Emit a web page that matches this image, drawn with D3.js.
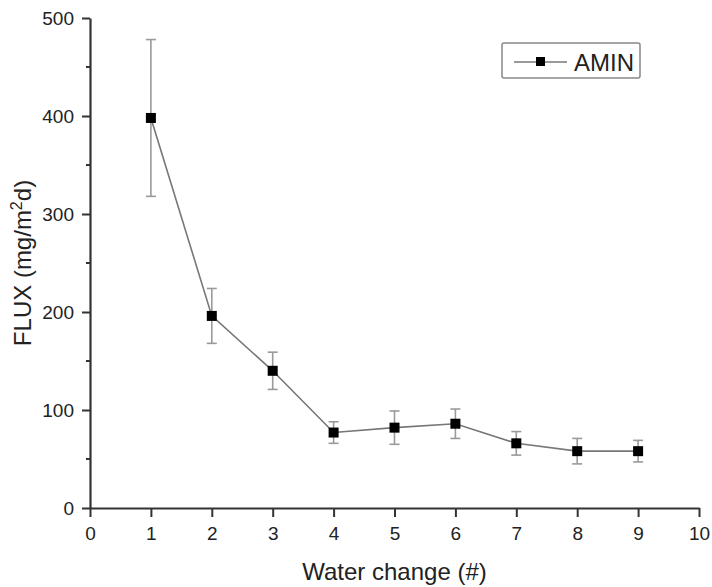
<!DOCTYPE html>
<html>
<head>
<meta charset="utf-8">
<script src="https://cdn.jsdelivr.net/npm/d3@7"></script>
<style>
  html, body { margin: 0; padding: 0; background: #fff; }
  svg { display: block; font-family: "Liberation Sans", Arial, sans-serif; }
</style>
</head>
<body>
<svg id="chart" width="712" height="587"></svg>
<script>
// Flux measured after each water change
const waterChange = [1, 2, 3, 4, 5, 6, 7, 8, 9];
const flux        = [398, 196, 140, 77, 82, 86, 66, 58, 58];
const fluxErr     = [80, 28, 19, 11, 17, 15, 12, 13, 11];
const xTicks = [0, 1, 2, 3, 4, 5, 6, 7, 8, 9, 10];
const yTicks = [0, 100, 200, 300, 400, 500];
const yMinorTicks = [50, 150, 250, 350, 450];
const seriesName = "AMIN";

const svg = d3.select("#chart");
const margin = { left: 90, right: 13, top: 18, bottom: 79 };
const W = 712, H = 587;

const x = d3.scaleLinear().domain([0, 10]).range([margin.left, W - margin.right]);
const y = d3.scaleLinear().domain([0, 500]).range([H - margin.bottom, margin.top]);

const axisColor = "#333";

// x axis
const gx = svg.append("g")
  .attr("transform", `translate(0,${y(0)})`)
  .call(d3.axisBottom(x).tickValues(xTicks).tickFormat(d3.format("d")).tickSize(9).tickPadding(10).tickSizeOuter(0));
gx.select(".domain").attr("stroke", axisColor).attr("stroke-width", 2.2);
gx.selectAll(".tick line").attr("stroke", axisColor).attr("stroke-width", 2);
gx.selectAll(".tick text").attr("font-size", 19).attr("fill", "#222").attr("font-family", "Liberation Sans, Arial, sans-serif");

// y axis
const gy = svg.append("g")
  .attr("transform", `translate(${x(0)},0)`)
  .call(d3.axisLeft(y).tickValues(yTicks).tickFormat(d3.format("d")).tickSize(8).tickPadding(8).tickSizeOuter(0));
gy.select(".domain").attr("stroke", axisColor).attr("stroke-width", 2.2);
gy.selectAll(".tick line").attr("stroke", axisColor).attr("stroke-width", 2);
gy.selectAll(".tick text").attr("font-size", 19).attr("fill", "#222").attr("font-family", "Liberation Sans, Arial, sans-serif");

// y minor ticks
svg.append("g").selectAll("line").data(yMinorTicks).join("line")
  .attr("x1", x(0) - 4).attr("x2", x(0))
  .attr("y1", d => y(d)).attr("y2", d => y(d))
  .attr("stroke", axisColor).attr("stroke-width", 2);

// axis titles
svg.append("text")
  .attr("x", (x(0) + x(10)) / 2).attr("y", 580)
  .attr("text-anchor", "middle").attr("font-size", 24).attr("fill", "#222")
  .text("Water change (#)");

const yt = svg.append("text")
  .attr("transform", `translate(31,${(y(0) + y(500)) / 2}) rotate(-90)`)
  .attr("text-anchor", "middle").attr("font-size", 24).attr("fill", "#222");
yt.append("tspan").text("FLUX (mg/m");
yt.append("tspan").attr("font-size", 16).attr("dy", -9).text("2");
yt.append("tspan").attr("dy", 9).text("d)");

const pts = waterChange.map((w, i) => ({ w, v: flux[i], e: fluxErr[i] }));

// error bars
const eb = svg.append("g").attr("stroke", "#9a9a9a").attr("stroke-width", 1.6);
eb.selectAll(".stem").data(pts).join("line")
  .attr("x1", d => x(d.w)).attr("x2", d => x(d.w))
  .attr("y1", d => y(d.v + d.e)).attr("y2", d => y(d.v - d.e));
eb.selectAll(".capT").data(pts).join("line")
  .attr("x1", d => x(d.w) - 5).attr("x2", d => x(d.w) + 5)
  .attr("y1", d => y(d.v + d.e)).attr("y2", d => y(d.v + d.e));
eb.selectAll(".capB").data(pts).join("line")
  .attr("x1", d => x(d.w) - 5).attr("x2", d => x(d.w) + 5)
  .attr("y1", d => y(d.v - d.e)).attr("y2", d => y(d.v - d.e));

// connecting line
svg.append("path").datum(pts)
  .attr("fill", "none").attr("stroke", "#777").attr("stroke-width", 1.6)
  .attr("d", d3.line().x(d => x(d.w)).y(d => y(d.v)));

// square markers
const ms = 10;
svg.append("g").selectAll("rect").data(pts).join("rect")
  .attr("x", d => x(d.w) - ms / 2).attr("y", d => y(d.v) - ms / 2)
  .attr("width", ms).attr("height", ms).attr("fill", "#000");

// legend
const lg = svg.append("g");
lg.append("rect").attr("x", 502).attr("y", 43).attr("width", 138).attr("height", 35)
  .attr("rx", 2).attr("fill", "#fff").attr("stroke", "#888").attr("stroke-width", 1.5);
lg.append("line").attr("x1", 514).attr("x2", 567).attr("y1", 62).attr("y2", 62)
  .attr("stroke", "#777").attr("stroke-width", 1.6);
lg.append("rect").attr("x", 536).attr("y", 57).attr("width", 9).attr("height", 9).attr("fill", "#000");
lg.append("text").attr("x", 574).attr("y", 71).attr("font-size", 24).attr("fill", "#222").text(seriesName);
</script>
</body>
</html>
